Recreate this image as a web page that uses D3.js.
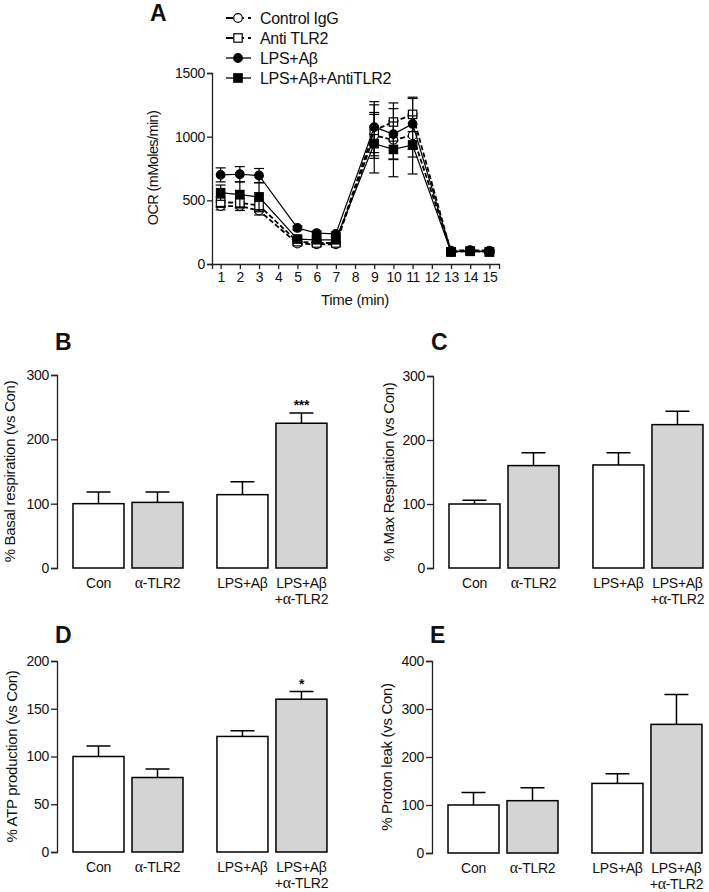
<!DOCTYPE html>
<html>
<head>
<meta charset="utf-8">
<script src="https://cdn.jsdelivr.net/npm/d3@7"></script>
<style>
  body { margin: 0; background: #fff; }
  svg { display: block; font-family: "Liberation Sans", Arial, sans-serif; }
  svg text { letter-spacing: -0.3px; fill: #111; }
  .axis path, .axis line { stroke: #222; stroke-width: 1.3; }
</style>
</head>
<body>
<svg id="fig" width="709" height="892"></svg>
<script>
// panel A: OCR time course
const times = [1, 2, 3, 5, 6, 7, 9, 10, 11, 13, 14, 15];
const timeTicks = d3.range(1, 16);
const ctrlIgG = [455, 455, 420, 160, 155, 155, 1010, 975, 1010, 105, 108, 105];
const ctrlIgGErr = [30, 35, 35, 15, 15, 15, 180, 150, 170, 10, 10, 10];
const antiTLR2 = [485, 480, 460, 175, 165, 165, 1050, 1115, 1175, 95, 100, 95];
const antiTLR2Err = [40, 40, 50, 15, 15, 15, 200, 150, 135, 10, 10, 10];
const lpsAb = [700, 705, 695, 283, 243, 236, 1075, 1020, 1100, 97, 105, 97];
const lpsAbErr = [55, 60, 55, 15, 15, 15, 200, 200, 200, 10, 10, 10];
const lpsAbAnti = [560, 545, 527, 196, 190, 190, 945, 900, 935, 95, 100, 95];
const lpsAbAntiErr = [60, 100, 110, 20, 20, 20, 230, 215, 228, 10, 10, 10];
const seriesNames = ["Control IgG", "Anti TLR2", "LPS+Aβ", "LPS+Aβ+AntiTLR2"];

// panels B-E: bar groups
const groups = ["Con", "α-TLR2", "LPS+Aβ", "LPS+Aβ+α-TLR2"];
const basalMean = [100, 102, 114, 225];
const basalErr = [18, 16, 20, 16];
const maxMean = [100, 160, 161, 224];
const maxErr = [6, 20, 19, 21];
const atpMean = [100, 78, 121, 160];
const atpErr = [11, 9, 6, 8];
const leakMean = [100, 109, 145, 268];
const leakErr = [26, 27, 20, 62];

const FONT = "'Liberation Sans', Arial, sans-serif";
const svg = d3.select("#fig");
svg.append("rect").attr("width", 709).attr("height", 892).attr("fill", "#fff");

function panelLetter(t, x, y){
  svg.append("text").attr("x", x).attr("y", y)
     .attr("font-size", 23).attr("font-weight", "bold").style("letter-spacing", "0px").text(t);
}
// d3 axis puts font 10px sans-serif on the group, override it
function styleAxis(g, size){
  g.attr("font-size", null).attr("font-family", null);
  g.selectAll("text").attr("font-size", size).attr("font-family", FONT);
}

// ---------- Panel A ----------
const ax = d3.scaleLinear().domain([0.55, 15.5]).range([212, 499]);
const ay = d3.scaleLinear().domain([0, 1500]).range([264, 73]);

const gA = svg.append("g");
gA.append("g").attr("class", "axis")
  .attr("transform", "translate(0,264)")
  .call(d3.axisBottom(ax).tickValues(timeTicks).tickFormat(d3.format("d")).tickSizeOuter(0).tickSize(5).tickPadding(3))
  .call(styleAxis, 14);
gA.append("g").attr("class", "axis")
  .attr("transform", "translate(212,0)")
  .call(d3.axisLeft(ay).tickValues([0, 500, 1000, 1500]).tickFormat(d3.format("d")).tickSizeOuter(0).tickSize(5).tickPadding(2))
  .call(styleAxis, 14);

gA.append("text").attr("x", 355).attr("y", 305).attr("text-anchor", "middle")
  .attr("font-size", 15).text("Time (min)");
gA.append("text").attr("transform", "translate(153,168) rotate(-90)")
  .attr("text-anchor", "middle").attr("dominant-baseline", "central")
  .attr("font-size", 14.5).style("letter-spacing", "-0.6px").text("OCR (mMoles/min)");

const series = [
  {name: seriesNames[0], v: ctrlIgG, e: ctrlIgGErr, shape: "circle", fill: "#fff", dash: "5,2.5"},
  {name: seriesNames[1], v: antiTLR2, e: antiTLR2Err, shape: "square", fill: "#fff", dash: "5,2.5"},
  {name: seriesNames[2], v: lpsAb, e: lpsAbErr, shape: "circle", fill: "#000", dash: null},
  {name: seriesNames[3], v: lpsAbAnti, e: lpsAbAntiErr, shape: "square", fill: "#000", dash: null}
];

function marker(g, shape, fill, x, y){
  if(shape == "circle"){
    g.append("circle").attr("cx", x).attr("cy", y).attr("r", 4.3)
     .attr("fill", fill).attr("stroke", "#000").attr("stroke-width", 1.2);
  } else {
    g.append("rect").attr("x", x-4.2).attr("y", y-4.2).attr("width", 8.4).attr("height", 8.4)
     .attr("fill", fill).attr("stroke", "#000").attr("stroke-width", 1.2);
  }
}

const line = d3.line().x((d) => ax(d[0])).y((d) => ay(d[1]));
series.forEach((s) => {
  const pts = times.map((t, i) => [t, s.v[i], s.e[i]]);
  const g = gA.append("g");
  // error bars
  pts.forEach((p) => {
    const x = ax(p[0]);
    g.append("line").attr("x1", x).attr("x2", x)
     .attr("y1", ay(p[1]-p[2])).attr("y2", ay(p[1]+p[2]))
     .attr("stroke", "#000").attr("stroke-width", 1.2);
    [p[1]-p[2], p[1]+p[2]].forEach((v) => {
      g.append("line").attr("x1", x-5).attr("x2", x+5)
       .attr("y1", ay(v)).attr("y2", ay(v))
       .attr("stroke", "#000").attr("stroke-width", 1.2);
    });
  });
  g.append("path").datum(pts).attr("d", line).attr("fill", "none")
   .attr("stroke", "#000").attr("stroke-width", s.dash ? 1.8 : 1.2)
   .attr("stroke-dasharray", s.dash);
  pts.forEach((p) => marker(g, s.shape, s.fill, ax(p[0]), ay(p[1])));
});

// legend
const leg = svg.append("g");
series.forEach((s, i) => {
  const y = 18 + i*20;
  leg.append("line").attr("x1", 226).attr("x2", 251).attr("y1", y).attr("y2", y)
     .attr("stroke", "#000").attr("stroke-width", s.dash ? 1.8 : 1.3)
     .attr("stroke-dasharray", s.dash ? "7,4" : null);
  marker(leg, s.shape, s.fill, 238, y);
  leg.append("text").attr("x", 260).attr("y", y+5.5).attr("font-size", 16).text(s.name);
});

panelLetter("A", 150, 21);

// ---------- Bar panels ----------
const barSlot = [0, 1, 2.44, 3.44];

function groupLabel(g, label, x, y){
  const parts = label == "LPS+Aβ+α-TLR2" ? ["LPS+Aβ", "+α-TLR2"] : [label];
  parts.forEach((p, k) => {
    const t = g.append("text").attr("x", x).attr("y", y + k*16)
               .attr("text-anchor", "middle").attr("font-size", 14);
    // alpha is set in a serif face like the original
    p.split(/(α)/).filter((s) => s.length).forEach((s) => {
      t.append("tspan").text(s)
       .attr("font-family", s == "α" ? "'Liberation Serif', 'DejaVu Serif', serif" : null)
       .attr("font-size", s == "α" ? 16 : null);
    });
  });
}

function barPanel(cfg){
  const g = svg.append("g");
  const y = d3.scaleLinear().domain([0, cfg.max]).range([cfg.y0, cfg.y1]);
  const x = d3.scaleLinear().domain([0, 1]).range([cfg.axisX + 16, cfg.axisX + 75]);
  const bw = 51;

  g.append("g").attr("class", "axis")
   .attr("transform", "translate(" + cfg.axisX + ",0)")
   .call(d3.axisLeft(y).tickValues(cfg.ticks).tickSizeOuter(0).tickSize(6).tickPadding(2))
   .call(styleAxis, 14);

  // error bars (upper only)
  g.selectAll(".err").data(cfg.mean).enter().append("path")
   .attr("d", (d, i) => {
     const cx = x(barSlot[i]) + bw/2;
     const top = y(d + cfg.err[i]);
     return "M" + cx + "," + y(d) + "V" + top + "M" + (cx-12) + "," + top + "H" + (cx+12);
   })
   .attr("fill", "none").attr("stroke", "#000").attr("stroke-width", 1.5);

  g.selectAll(".bar").data(cfg.mean).enter().append("rect")
   .attr("x", (d, i) => x(barSlot[i]))
   .attr("y", (d) => y(d))
   .attr("width", bw)
   .attr("height", (d) => cfg.y0 - y(d))
   .attr("fill", (d, i) => i % 2 ? "#d4d4d4" : "#fff")
   .attr("stroke", "#000").attr("stroke-width", 1.5);

  groups.forEach((lab, i) => groupLabel(g, lab, x(barSlot[i]) + bw/2, cfg.y0 + 20));

  // significance marks
  cfg.mean.forEach((d, i) => {
    if(cfg.sig[i]){
      g.append("text").attr("x", x(barSlot[i]) + bw/2).attr("y", y(d + cfg.err[i]) - 3)
       .attr("text-anchor", "middle").attr("font-size", 14).attr("font-weight", "bold")
       .text(cfg.sig[i]);
    }
  });

  g.append("text")
   .attr("transform", "translate(" + cfg.titleX + "," + ((cfg.y0 + cfg.y1)/2) + ") rotate(-90)")
   .attr("text-anchor", "middle").attr("dominant-baseline", "central")
   .attr("font-size", 15).text(cfg.title);

  panelLetter(cfg.letter, cfg.axisX - 2, cfg.letterY);
}

barPanel({letter: "B", letterY: 350, axisX: 57, y0: 568, y1: 375, max: 300, ticks: [0, 100, 200, 300],
  mean: basalMean, err: basalErr, sig: [null, null, null, "***"], titleX: 9,
  title: "% Basal respiration (vs Con)"});
barPanel({letter: "C", letterY: 350, axisX: 433, y0: 568, y1: 376, max: 300, ticks: [0, 100, 200, 300],
  mean: maxMean, err: maxErr, sig: [null, null, null, null], titleX: 388,
  title: "% Max Respiration (vs Con)"});
barPanel({letter: "D", letterY: 643, axisX: 57, y0: 852, y1: 661, max: 200, ticks: [0, 50, 100, 150, 200],
  mean: atpMean, err: atpErr, sig: [null, null, null, "*"], titleX: 11,
  title: "% ATP production (vs Con)"});
barPanel({letter: "E", letterY: 643, axisX: 432, y0: 853, y1: 661, max: 400, ticks: [0, 100, 200, 300, 400],
  mean: leakMean, err: leakErr, sig: [null, null, null, null], titleX: 386,
  title: "% Proton leak (vs Con)"});
</script>
</body>
</html>
